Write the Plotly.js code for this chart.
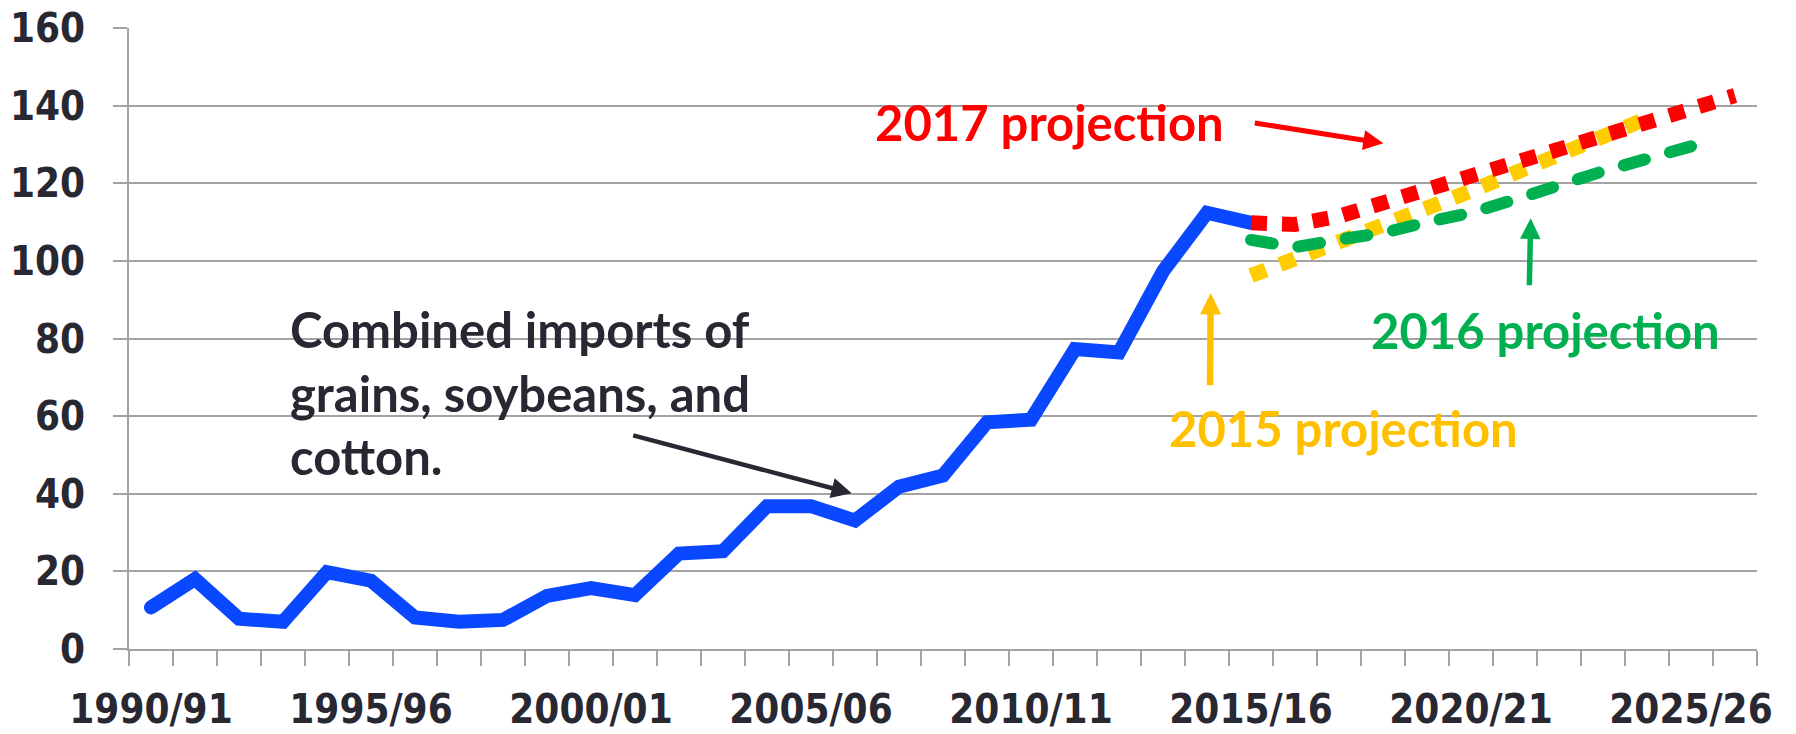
<!DOCTYPE html>
<html>
<head>
<meta charset="utf-8">
<script src="https://cdn.plot.ly/plotly-3.0.1.min.js"></script>
<style>
  html, body { margin: 0; padding: 0; background: #ffffff; }
  #chart { width: 1796px; height: 734px; }
  #chart .scatterlayer .trace:nth-child(1) path.js-line,
  #chart .scatterlayer .trace:nth-child(3) path.js-line { stroke-linecap: round; }
</style>
</head>
<body>
<div id="chart"></div>
<script>
// ---- data ----
const categories = [
  "1990/91","1991/92","1992/93","1993/94","1994/95","1995/96","1996/97","1997/98","1998/99","1999/00",
  "2000/01","2001/02","2002/03","2003/04","2004/05","2005/06","2006/07","2007/08","2008/09","2009/10",
  "2010/11","2011/12","2012/13","2013/14","2014/15","2015/16","2016/17","2017/18","2018/19","2019/20",
  "2020/21","2021/22","2022/23","2023/24","2024/25","2025/26","2026/27"
];
const tickLabels = ["1990/91","1995/96","2000/01","2005/06","2010/11","2015/16","2020/21","2025/26"];

const historyYears = categories.slice(0, 26);
const historyValues = [10.7, 18.0, 7.8, 7.0, 19.8, 17.6, 8.1, 7.0, 7.5, 13.7,
                       15.7, 13.9, 24.6, 25.2, 36.8, 36.8, 33.1, 41.8, 44.7, 58.4,
                       59.1, 77.3, 76.4, 97.3, 112.4, 109.8];

const proj2015Years = categories.slice(25, 35);
const proj2015Values = [96.2, 100.3, 104.4, 109.1, 113.6, 118.0, 122.7, 127.6, 132.0, 136.7];

const proj2016Years = categories.slice(25, 36);
const proj2016Values = [105.4, 103.5, 105.5, 107.2, 110.0, 112.4, 115.8, 119.8, 123.1, 126.3, 129.5];

const proj2017Years = categories.slice(25, 37);
const proj2017Values = [109.8, 109.4, 111.5, 114.9, 118.7, 122.4, 126.1, 129.5, 132.9, 136.3, 139.4, 142.6];

const yTicks = [0, 20, 40, 60, 80, 100, 120, 140, 160];

// ---- styling ----
const W = 1796, H = 734;
const M = { l: 129, r: 39, t: 28, b: 85 };
const PW = W - M.l - M.r, PH = H - M.t - M.b;
const X = px => (px - M.l) / PW;
const Y = py => (H - M.b - py) / PH;

const DARK = "#282832";
const GRID = "#a3a3a3";
const BLUE = "#0a48ff";
const RED = "#ff0000";
const GREEN = "#00b050";
const GOLD = "#ffc000";
const GOLD_LINE = "#ffcc00";
const TICKFONT = { family: "'DejaVu Sans Condensed', 'DejaVu Sans', sans-serif", size: 40, color: DARK, weight: "bold" };
const NOTEFONT = (c) => ({ family: "Lato, 'Open Sans', sans-serif", size: 49, color: c, weight: "bold" });

const traces = [
  { x: historyYears, y: historyValues, type: "scatter", mode: "lines",
    line: { color: BLUE, width: 14 }, hoverinfo: "skip" },
  { x: proj2015Years, y: proj2015Values, type: "scatter", mode: "lines",
    line: { color: GOLD_LINE, width: 15, dash: "16px,15px" }, hoverinfo: "skip" },
  { x: proj2016Years, y: proj2016Values, type: "scatter", mode: "lines",
    line: { color: GREEN, width: 12, dash: "22px,26px" }, hoverinfo: "skip" },
  { x: proj2017Years, y: proj2017Values, type: "scatter", mode: "lines",
    line: { color: RED, width: 15, dash: "16px,15px" }, hoverinfo: "skip" }
];

const tickText = categories.map(c => tickLabels.includes(c) ? c : "");

const mask = (x0, x1, y0, y1) => ({
  type: "rect", xref: "paper", yref: "paper", layer: "between",
  x0: X(x0), x1: X(x1), y0: Y(y1), y1: Y(y0),
  fillcolor: "#ffffff", line: { width: 0 }
});

const note = (text, x, y, color, xanchor, align) => ({
  text, xref: "paper", yref: "paper", x: X(x), y: Y(y),
  xanchor, yanchor: "middle", align, showarrow: false,
  borderpad: 0, font: NOTEFONT(color)
});

const arrow = (tipX, tipY, tailX, tailY, color, width, size) => ({
  text: "", xref: "paper", yref: "paper", x: X(tipX), y: Y(tipY),
  axref: "pixel", ayref: "pixel", ax: tailX - tipX, ay: tailY - tipY,
  showarrow: true, arrowhead: 2, arrowsize: size, arrowwidth: width,
  arrowcolor: color, standoff: 0, startstandoff: 0
});

const layout = {
  width: W, height: H,
  margin: M,
  paper_bgcolor: "#ffffff", plot_bgcolor: "#ffffff",
  showlegend: false,
  xaxis: {
    type: "category", categoryorder: "array", categoryarray: categories,
    range: [-0.5, categories.length - 0.5],
    tickmode: "array", tickvals: categories, ticktext: tickText,
    tickson: "boundaries", ticks: "outside", ticklen: 15, tickwidth: 2, tickcolor: GRID,
    tickangle: 0, tickfont: TICKFONT, ticklabelstandoff: 24,
    showgrid: false, zeroline: false,
    showline: true, linecolor: GRID, linewidth: 2, automargin: false, fixedrange: true
  },
  yaxis: {
    range: [0, 160], tickmode: "array", tickvals: yTicks,
    ticks: "outside", ticklen: 14, tickwidth: 2, tickcolor: GRID,
    tickfont: TICKFONT, ticklabelstandoff: 20,
    showgrid: true, gridcolor: GRID, gridwidth: 2,
    zeroline: false, showline: true, linecolor: GRID, linewidth: 2,
    automargin: false, fixedrange: true
  },
  shapes: [
    mask(270, 857, 300, 470),
    mask(857, 1254, 90, 130),
    mask(1353, 1746, 320, 360),
    mask(1151, 1558, 400, 432)
  ],
  annotations: [
    note("Combined imports of<br>grains, soybeans, and<br>cotton.", 289, 393, DARK, "left", "left"),
    note("2017 projection", 1049.5, 122, RED, "center", "center"),
    note("2016 projection", 1545.5, 330, GREEN, "center", "center"),
    note("2015 projection", 1343.8, 428, GOLD, "center", "center"),
    arrow(851.7, 493.3, 631.7, 435, DARK, 4.5, 0.9),
    arrow(1383.3, 143.3, 1253.3, 122.7, RED, 5, 0.8),
    arrow(1530.7, 218.3, 1529.3, 286.7, GREEN, 5.5, 0.75),
    arrow(1210.7, 293.3, 1210, 386.7, GOLD, 6.5, 0.65)
  ]
};

Plotly.newPlot("chart", traces, layout, { displayModeBar: false, staticPlot: true });
</script>
</body>
</html>
